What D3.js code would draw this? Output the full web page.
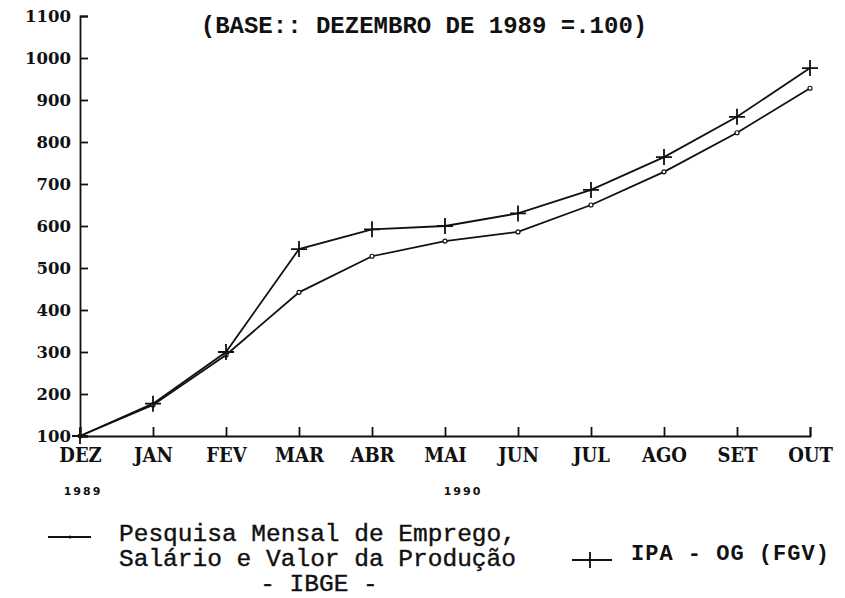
<!DOCTYPE html>
<html>
<head>
<meta charset="utf-8">
<script src="https://cdn.jsdelivr.net/npm/d3@7"></script>
<style>
  body { margin: 0; background: #fff; }
  svg { display: block; }
  .axis path, .axis line { stroke: #111; stroke-width: 1.8; }
  .ylab text { font-family: "DejaVu Serif", serif; font-weight: bold; font-size: 16.5px; fill: #111; }
  .xlab text { font-family: "DejaVu Serif Condensed", "DejaVu Serif", serif; font-weight: bold; font-size: 20px; fill: #111; }
</style>
</head>
<body>
<script>
// months on the x axis
var months = ["DEZ", "JAN", "FEV", "MAR", "ABR", "MAI", "JUN", "JUL", "AGO", "SET", "OUT"];
// Pesquisa Mensal de Emprego, Salário e Valor da Produção - IBGE
var ibge = [100, 174, 293, 442, 528, 564, 586, 650, 729, 822, 928];
// IPA - OG (FGV)
var ipa = [100, 177, 300, 545, 592, 600, 630, 686, 764, 860, 976];
// y tick values
var yTicks = [100, 200, 300, 400, 500, 600, 700, 800, 900, 1000, 1100];

// set the dimensions and margins of the graph
var margin = {top: 16, right: 35, bottom: 162, left: 80},
    width = 845 - margin.left - margin.right,
    height = 598 - margin.top - margin.bottom;

var x = d3.scalePoint().domain(months).range([0, width]);
var y = d3.scaleLinear().domain([100, 1100]).range([height, 0]);

var svg = d3.select("body")
            .append("svg")
            .attr("width", 845)
            .attr("height", 598)
            .append("g")
            .attr("transform", "translate(" + margin.left + "," + margin.top + ")");

// y axis, ticks pointing inside
svg.append("g")
    .attr("class", "axis ylab")
    .call(d3.axisLeft(y).tickValues(yTicks).tickFormat(d3.format("d")).tickSize(-8).tickPadding(9));

// x axis, ticks pointing up
svg.append("g")
    .attr("class", "axis xlab")
    .attr("transform", "translate(0," + height + ")")
    .call(d3.axisBottom(x).tickSize(-9).tickPadding(12));

// the lines
var line = d3.line()
    .x(function(d, i){ return x(months[i]); })
    .y(function(d){ return y(d); });

[ibge, ipa].forEach(function(s){
    svg.append("path")
        .datum(s)
        .attr("fill", "none")
        .attr("stroke", "#111")
        .attr("stroke-width", 1.8)
        .attr("d", line);
});

// small dots for IBGE
svg.selectAll(".dot")
    .data(ibge)
    .enter()
    .append("circle")
    .attr("cx", function(d, i){ return x(months[i]); })
    .attr("cy", function(d){ return y(d); })
    .attr("r", 2)
    .attr("fill", "#fff")
    .attr("stroke", "#111")
    .attr("stroke-width", 1.2);

// plus markers for IPA
svg.selectAll(".plus")
    .data(ipa)
    .enter()
    .append("path")
    .attr("transform", function(d, i){ return "translate(" + x(months[i]) + "," + y(d) + ")"; })
    .attr("d", "M-8,0H8M0,-8V8")
    .attr("stroke", "#111")
    .attr("stroke-width", 1.8);

// subtitle
svg.append("text")
    .attr("x", 344)
    .attr("y", 17)
    .attr("text-anchor", "middle")
    .style("font-family", "'Liberation Mono', monospace")
    .style("font-weight", "bold")
    .style("font-size", "24px")
    .style("fill", "#111")
    .text("(BASE:: DEZEMBRO DE 1989 =.100)");

// year labels
var yearStyle = function(t){
    t.style("font-family", "'DejaVu Sans', sans-serif")
     .style("font-weight", "bold")
     .style("font-size", "11px")
     .style("letter-spacing", "2px")
     .style("fill", "#111")
     .attr("text-anchor", "middle");
};
svg.append("text").attr("x", x("DEZ") + 3).attr("y", height + 59).text("1989").call(yearStyle);
svg.append("text").attr("x", x("MAI") + 18).attr("y", height + 59).text("1990").call(yearStyle);

// legend
var legY = height + 105;
var leg = svg.append("g")
    .style("font-family", "'Liberation Mono', monospace")
    .style("fill", "#111");

leg.append("line")
    .attr("x1", -32).attr("x2", 11)
    .attr("y1", legY - 4).attr("y2", legY - 4)
    .attr("stroke", "#111").attr("stroke-width", 1.8);
leg.append("circle")
    .attr("cx", -10).attr("cy", legY - 4).attr("r", 1.6)
    .attr("fill", "#111");

var legLines = ["Pesquisa Mensal de Emprego,", "Salário e Valor da Produção", "- IBGE -"];
leg.selectAll(".lt")
    .data(legLines)
    .enter()
    .append("text")
    .attr("x", function(d, i){ return i < 2 ? 39 : 239; })
    .attr("y", function(d, i){ return legY + i * 25; })
    .attr("text-anchor", function(d, i){ return i < 2 ? "start" : "middle"; })
    .style("font-size", "24.5px")
    .style("stroke", "#111")
    .style("stroke-width", 0.4)
    .text(function(d){ return d; });

leg.append("path")
    .attr("transform", "translate(512," + (legY + 19) + ")")
    .attr("d", "M-20,0H20M-2,-8V8")
    .attr("stroke", "#111").attr("stroke-width", 1.8);

leg.append("text")
    .attr("x", 551)
    .attr("y", legY + 19)
    .style("font-size", "22px")
    .style("font-weight", "bold")
    .style("letter-spacing", "1px")
    .text("IPA - OG (FGV)");
</script>
</body>
</html>
